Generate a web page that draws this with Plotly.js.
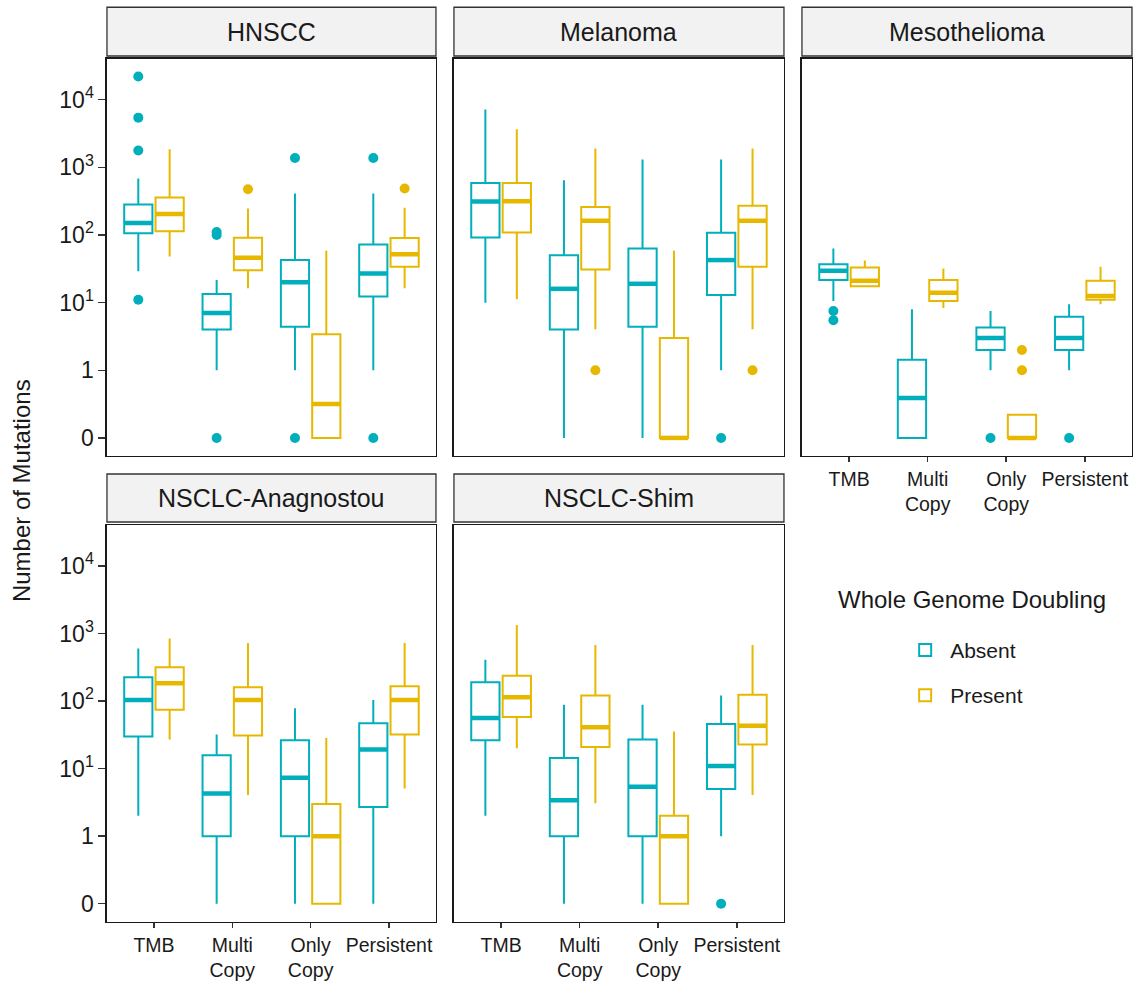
<!DOCTYPE html>
<html><head><meta charset="utf-8">
<script src="https://cdn.plot.ly/plotly-3.0.1.min.js"></script>
<style>html,body{margin:0;padding:0;background:#fff}</style>
</head><body><div id="chart" style="width:1138px;height:981px"></div>
<script>
// ---------------- data ----------------
const panels = ["HNSCC", "Melanoma", "Mesothelioma", "NSCLC-Anagnostou", "NSCLC-Shim"];
const categories = ["TMB", "Multi Copy", "Only Copy", "Persistent"];
const categoryTickText = ["TMB", "Multi<br>Copy", "Only<br>Copy", "Persistent"];
const groups = ["Absent", "Present"];
const groupColors = ["#00AFBB", "#E7B800"];
const yTickValues = [0, 1, 10, 100, 1000, 10000];
const yTickText = ["0", "1", "10<sup>1</sup>", "10<sup>2</sup>", "10<sup>3</sup>", "10<sup>4</sup>"];
const legendTitle = "Whole Genome Doubling";
const yAxisTitle = "Number of Mutations";

// rows per category: [lower whisker, Q1, median, Q3, upper whisker] (number of mutations)
const HNSCC_Absent = [[29, 106, 151, 283, 684], [1, 4, 7, 13.4, 21.6], [1, 4.4, 20, 42.6, 411], [1, 12.3, 27, 72.6, 411]];
const HNSCC_Present = [[48, 114, 205, 359, 1850], [16.3, 30, 46, 91, 247], [0, 0, 0.316, 3.4, 58.5], [16.3, 34, 52, 90, 252]];
const Melanoma_Absent = [[10, 92, 313, 589, 7190], [0, 4, 16, 50, 645], [0, 4.4, 19, 63.4, 1303], [1, 13, 42.6, 108, 1303]];
const Melanoma_Present = [[11.2, 109, 316, 589, 3650], [4.05, 31, 162, 260, 1893], [0, 0, 0, 3.0, 58.5], [4.05, 34, 162, 270, 1893]];
const Mesothelioma_Absent = [[10.6, 21.6, 29.6, 37, 63.4], [0, 0, 0.39, 1.43, 8], [1, 2, 3, 4.3, 7.5], [1, 2, 3, 6.2, 9.5]];
const Mesothelioma_Present = [[17, 17.5, 21, 33, 42], [8.3, 10.6, 14, 21.6, 32], [0, 0, 0, 0.22, 0.22], [9.5, 11, 12.5, 21, 34]];
const Anagnostou_Absent = [[2, 30, 104, 225, 601], [0, 1, 4.3, 15.8, 32], [0, 1, 7.3, 26.3, 78.6], [0, 2.7, 19.2, 47, 104]];
const Anagnostou_Present = [[27, 74.5, 184, 316, 844], [4.07, 31, 104, 160, 722], [0, 0, 1, 3.0, 28.4], [5.1, 32, 104, 166, 722]];
const Shim_Absent = [[2, 26.3, 56, 190, 410], [0, 1, 3.4, 14.4, 88], [0, 1, 5.4, 27, 88], [1, 5, 10.9, 46, 121]];
const Shim_Present = [[20, 58, 114, 238, 1343], [3.07, 21, 41, 121, 675], [0, 0, 1, 2, 35.6], [4.07, 22.7, 43, 124, 675]];

// outliers: [category, group, number of mutations]
const HNSCC_Outliers = [["TMB", "Absent", 22000], ["TMB", "Absent", 5430], ["TMB", "Absent", 1770], ["TMB", "Absent", 11],
  ["Multi Copy", "Absent", 111], ["Multi Copy", "Absent", 100], ["Multi Copy", "Absent", 0],
  ["Only Copy", "Absent", 1377], ["Only Copy", "Absent", 0],
  ["Persistent", "Absent", 1377], ["Persistent", "Absent", 0],
  ["Multi Copy", "Present", 475], ["Persistent", "Present", 487]];
const Melanoma_Outliers = [["Multi Copy", "Present", 1], ["Persistent", "Present", 1], ["Persistent", "Absent", 0]];
const Mesothelioma_Outliers = [["TMB", "Absent", 7.5], ["TMB", "Absent", 5.5], ["Only Copy", "Absent", 0],
  ["Persistent", "Absent", 0], ["Only Copy", "Present", 2], ["Only Copy", "Present", 1]];
const Anagnostou_Outliers = [];
const Shim_Outliers = [["Persistent", "Absent", 0]];

// ---------------- assembly ----------------
const statsByPanel = [
  [HNSCC_Absent, HNSCC_Present], [Melanoma_Absent, Melanoma_Present], [Mesothelioma_Absent, Mesothelioma_Present],
  [Anagnostou_Absent, Anagnostou_Present], [Shim_Absent, Shim_Present]];
const outliersByPanel = [HNSCC_Outliers, Melanoma_Outliers, Mesothelioma_Outliers, Anagnostou_Outliers, Shim_Outliers];

// zero is drawn one decade below 1 (log10 with 0 -> 0.1)
const tr = v => Math.log10(Math.max(v, 0.1));

const dodge = [-0.2, 0.2];
const boxW = 0.36;
const colX = [[0.0940, 0.3831], [0.3989, 0.6889], [0.7047, 0.9947]];
const rowY = [[0.5352, 0.9402], [0.0604, 0.4648]];
const stripY = [[0.9429, 0.9926], [0.4679, 0.5168]];
const panelPos = [[0, 0], [1, 0], [2, 0], [0, 1], [1, 1]];
const showXLabels = [false, false, true, true, true];
const showYLabels = [true, false, false, true, false];
const FONT = "Liberation Sans, Arial, Helvetica, sans-serif";

const traces = [];
const layout = {
  width: 1138, height: 981,
  margin: {l: 0, r: 0, t: 0, b: 0},
  paper_bgcolor: "#ffffff", plot_bgcolor: "#ffffff",
  font: {family: FONT, color: "#1a1a1a"},
  showlegend: true,
  legend: {
    x: 0.791, y: 0.358, xanchor: "left", yanchor: "top",
    font: {size: 21, color: "#1a1a1a", family: FONT},
    bgcolor: "rgba(0,0,0,0)", tracegroupgap: 15, itemwidth: 40
  },
  shapes: [], annotations: []
};

panels.forEach((panel, p) => {
  const suf = p === 0 ? "" : String(p + 1);
  const [c, r] = panelPos[p];
  layout["xaxis" + suf] = {
    domain: colX[c], anchor: "y" + suf, range: [0.4, 4.6],
    tickvals: categories.map((_, i) => i + 1), ticktext: categoryTickText,
    showticklabels: showXLabels[p], ticks: showXLabels[p] ? "outside" : "",
    ticklen: 5, tickwidth: 1.5, tickcolor: "#333333",
    tickfont: {size: 19.5, color: "#1a1a1a", family: FONT},
    showline: true, mirror: true, linecolor: "#1a1a1a", linewidth: 1.5,
    showgrid: false, zeroline: false, fixedrange: true
  };
  layout["yaxis" + suf] = {
    domain: rowY[r], anchor: "x" + suf, range: [-1.267, 4.607],
    tickvals: yTickValues.map(tr), ticktext: yTickText,
    showticklabels: showYLabels[p], ticks: showYLabels[p] ? "outside" : "",
    ticklen: 7, tickwidth: 1.5, tickcolor: "#333333",
    tickfont: {size: 23, color: "#1a1a1a", family: FONT},
    showline: true, mirror: true, linecolor: "#1a1a1a", linewidth: 1.5,
    showgrid: false, zeroline: false, fixedrange: true
  };
  // strip
  layout.shapes.push({type: "rect", xref: "paper", yref: "paper",
    x0: colX[c][0], x1: colX[c][1], y0: stripY[r][0], y1: stripY[r][1],
    fillcolor: "#F2F2F2", line: {color: "#333333", width: 1.3}});
  layout.annotations.push({xref: "paper", yref: "paper",
    x: (colX[c][0] + colX[c][1]) / 2, y: (stripY[r][0] + stripY[r][1]) / 2,
    text: panel, showarrow: false, xanchor: "center", yanchor: "middle",
    font: {size: 25, color: "#1a1a1a", family: FONT}});

  groups.forEach((g, gi) => {
    const rows = statsByPanel[p][gi];
    const xs = categories.map((_, i) => i + 1 + dodge[gi]);
    traces.push({
      type: "box", name: g, legendgroup: g, showlegend: p === 0,
      x: xs,
      lowerfence: rows.map(d => tr(d[0])), q1: rows.map(d => tr(d[1])),
      median: rows.map(d => tr(d[2])), q3: rows.map(d => tr(d[3])),
      upperfence: rows.map(d => tr(d[4])),
      width: boxW, whiskerwidth: 0, boxpoints: false,
      fillcolor: "rgba(255,255,255,0)", line: {color: groupColors[gi], width: 2},
      xaxis: "x" + suf, yaxis: "y" + suf, hoverinfo: "skip"
    });
    // thicker median bar
    const mx = [], my = [];
    rows.forEach((d, i) => { mx.push(xs[i] - boxW / 2, xs[i] + boxW / 2, null); my.push(tr(d[2]), tr(d[2]), null); });
    traces.push({type: "scatter", mode: "lines", x: mx, y: my, showlegend: false, hoverinfo: "skip",
      line: {color: groupColors[gi], width: 4.5}, xaxis: "x" + suf, yaxis: "y" + suf});
    // outliers
    const outs = outliersByPanel[p].filter(o => o[1] === g);
    if (outs.length) {
      traces.push({type: "scatter", mode: "markers",
        x: outs.map(o => categories.indexOf(o[0]) + 1 + dodge[gi]), y: outs.map(o => tr(o[2])),
        marker: {color: groupColors[gi], size: 10}, showlegend: false, hoverinfo: "skip",
        xaxis: "x" + suf, yaxis: "y" + suf});
    }
  });
});

layout.annotations.push({xref: "paper", yref: "paper", x: 0.019, y: 0.5,
  text: yAxisTitle, textangle: -90, showarrow: false,
  xanchor: "center", yanchor: "middle", font: {size: 24, color: "#1a1a1a", family: FONT}});
layout.annotations.push({xref: "paper", yref: "paper", x: 0.7346, y: 0.3884,
  text: legendTitle, showarrow: false,
  xanchor: "left", yanchor: "middle", font: {size: 24, color: "#1a1a1a", family: FONT}});

Plotly.newPlot("chart", traces, layout, {displayModeBar: false, staticPlot: true});
</script>
</body></html>
